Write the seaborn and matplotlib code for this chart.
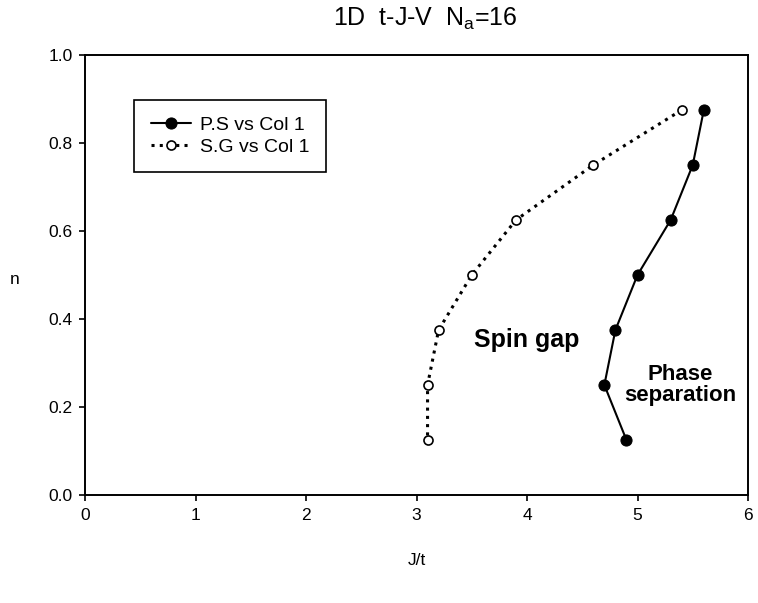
import matplotlib
matplotlib.use("Agg")
import matplotlib.pyplot as plt
import seaborn as sns
import pandas as pd

# Data
n_vals = [0.875, 0.75, 0.625, 0.5, 0.375, 0.25, 0.125]
ps_jt = [5.6, 5.5, 5.3, 5.0, 4.8, 4.7, 4.9]
sg_jt = [5.4, 4.6, 3.9, 3.5, 3.2, 3.1, 3.1]
x_ticks = [0, 1, 2, 3, 4, 5, 6]
y_ticks = [0.0, 0.2, 0.4, 0.6, 0.8, 1.0]

sns.set_style("ticks", {"text.color": "black", "axes.labelcolor": "black",
                        "xtick.color": "black", "ytick.color": "black",
                        "axes.edgecolor": "black"})
plt.rcParams['font.family'] = ['Liberation Sans', 'DejaVu Sans']

df_ps = pd.DataFrame({"J/t": ps_jt, "n": n_vals})
df_sg = pd.DataFrame({"J/t": sg_jt, "n": n_vals})

fig = plt.figure(figsize=(7.58, 6.03), dpi=100)
ax = fig.add_axes([85/758, 108/603, 663/758, 440/603])

sns.lineplot(data=df_ps, x="J/t", y="n", sort=False, estimator=None, ax=ax,
             color="black", linewidth=1.5, marker="o", markersize=8,
             markerfacecolor="black", markeredgecolor="black",
             label="P.S vs Col 1")
sns.lineplot(data=df_sg, x="J/t", y="n", sort=False, estimator=None, ax=ax,
             color="black", linewidth=2.2, linestyle=(0, (1, 1.7)),
             marker="o", markersize=6.5, markerfacecolor="white",
             markeredgecolor="black", markeredgewidth=1.2,
             label="S.G vs Col 1")

ax.set_xlim(0, 6)
ax.set_ylim(0, 1.0)
ax.set_xticks(x_ticks)
ax.set_xticklabels([str(t) for t in x_ticks])
ax.set_yticks(y_ticks)
ax.set_yticklabels([f"{t:.1f}" for t in y_ticks])
ax.tick_params(direction="out", length=4, width=1.2, labelsize=12.5, colors="black", pad=5)
for s in ax.spines.values():
    s.set_visible(True)
    s.set_linewidth(1.4)
    s.set_color("black")

ax.set_xlabel("J/t", fontsize=12.5)
ax.xaxis.set_label_coords(0.5, -0.148)
ax.xaxis.label.set_va("center")
ax.set_ylabel("n", fontsize=12.5, rotation=0)
ax.yaxis.set_label_coords(-0.1056, 0.489)
ax.yaxis.label.set_va("center")
ax.yaxis.label.set_ha("center")

fig.text(425/758, 1 - 26/603, r"1D  t-J-V  N$_\mathregular{a}$=16", fontsize=18,
         ha="center", va="baseline")

ax.text(4.0, 0.352, "Spin gap", fontsize=18, fontweight="bold", ha="center", va="center")
ax.text(5.39, 0.25, "Phase\nseparation", fontsize=16, fontweight="bold", ha="center",
        va="center", linespacing=1.05)

leg = ax.legend(loc="upper left", bbox_to_anchor=(0.074, 0.898), borderaxespad=0,
                frameon=True, fancybox=False, edgecolor="black", fontsize=14,
                handlelength=2.1, borderpad=0.85, labelspacing=0.2, handletextpad=0.45)
leg.get_frame().set_linewidth(1.2)
leg.get_frame().set_alpha(1)

fig.savefig("out.png", dpi=100)
